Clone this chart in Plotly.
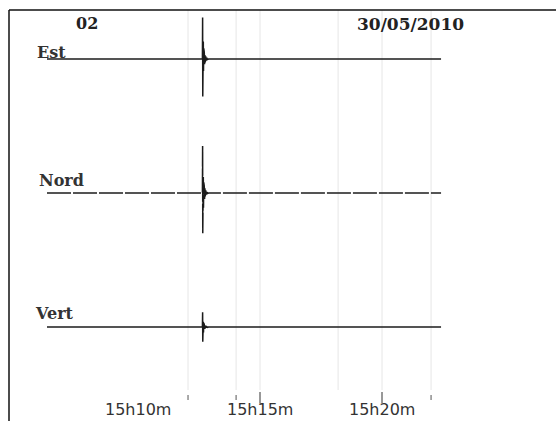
import plotly.graph_objects as go

# Time axis in minutes after 15h00
trace_start = 6.27
trace_end = 22.42
burst_t = [12.640, 12.648, 12.654, 12.660, 12.668, 12.676, 12.684, 12.694, 12.704,
           12.716, 12.728, 12.742, 12.758, 12.776, 12.796, 12.820, 12.850, 12.890]

# Component amplitudes during the burst (in trace-spacing units)
est_amp = [0, 0.31, -0.28, 0.15, -0.10, 0.13, -0.09, 0.08, -0.06,
           0.05, -0.04, 0.03, -0.025, 0.02, -0.012, 0.008, -0.004, 0]
nord_amp = [0, 0.35, -0.30, 0.13, -0.14, 0.12, -0.11, 0.08, -0.07,
            0.05, -0.045, 0.035, -0.025, 0.02, -0.012, 0.008, -0.004, 0]
vert_amp = [0, 0.11, -0.11, 0.05, -0.05, 0.04, -0.04, 0.03, -0.025,
            0.02, -0.015, 0.012, -0.01, 0.008, -0.005, 0.003, -0.002, 0]

components = ["Est", "Nord", "Vert"]
offsets = [2, 1, 0]

grid_minutes = [12.05, 14.02, 15.0, 18.20, 20.0, 22.01]
minor_ticks = [12.05, 14.02, 22.01]
major_ticks = [15.0, 20.0]
tick_vals = [10, 15, 20]
tick_text = ["15h10m", "15h15m", "15h20m"]

station = "02"
date_text = "30/05/2010"

W, H = 556, 421
X_RANGE = [4.344, 27.131]
Y_RANGE = [-0.701, 2.440]


def py(px):
    return 1 - px / H


def pxx(px):
    return px / W


fig = go.Figure()
amps = [est_amp, nord_amp, vert_amp]
for name, amp, off in zip(components, amps, offsets):
    xs = [trace_start] + burst_t + [trace_end]
    ys = [off] + [off + a for a in amp] + [off]
    fig.add_trace(go.Scatter(
        x=xs, y=ys, mode="lines", name=name,
        line=dict(color="#1c1c1c", width=1.5,
                  dash="24px,2px" if name == "Nord" else "solid"),
        hoverinfo="skip", showlegend=False,
    ))

shapes = []
for g in grid_minutes:
    shapes.append(dict(type="line", xref="x", yref="paper", x0=g, x1=g,
                       y0=py(390), y1=py(10), line=dict(color="#e6e6e6", width=1),
                       layer="below"))
for t in minor_ticks:
    shapes.append(dict(type="line", xref="x", yref="paper", x0=t, x1=t,
                       y0=py(400), y1=py(395), line=dict(color="#555", width=1)))
for t in major_ticks:
    shapes.append(dict(type="line", xref="x", yref="paper", x0=t, x1=t,
                       y0=py(403), y1=py(392), line=dict(color="#333", width=1)))
# frame: top and left edges
shapes.append(dict(type="line", xref="paper", yref="paper", x0=pxx(9), x1=1,
                   y0=py(10), y1=py(10), line=dict(color="#111", width=1.5)))
shapes.append(dict(type="line", xref="paper", yref="paper", x0=pxx(9), x1=pxx(9),
                   y0=py(10), y1=0, line=dict(color="#111", width=1.5)))

annotations = []
for v, t in zip(tick_vals, tick_text):
    annotations.append(dict(x=v, y=py(409), xref="x", yref="paper", text=t,
                            showarrow=False, xanchor="center", yanchor="middle",
                            font=dict(family="DejaVu Sans", size=16, color="#333")))
label_pos = [(35, 53), (37, 180), (33, 313)]
for name, (lx, ly) in zip(components, label_pos):
    annotations.append(dict(x=pxx(lx), y=py(ly), xref="paper", yref="paper",
                            text="<b>%s</b>" % name, showarrow=False,
                            xanchor="left", yanchor="middle",
                            font=dict(family="DejaVu Serif", size=16, color="#333")))
annotations.append(dict(x=pxx(87), y=py(24), xref="paper", yref="paper",
                        text="<b>%s</b>" % station, showarrow=False,
                        xanchor="center", yanchor="middle",
                        font=dict(family="DejaVu Serif", size=16, color="#222")))
annotations.append(dict(x=pxx(410), y=py(24), xref="paper", yref="paper",
                        text="<b>%s</b>" % date_text, showarrow=False,
                        xanchor="center", yanchor="middle",
                        font=dict(family="DejaVu Serif", size=17, color="#222")))

fig.update_layout(
    width=W, height=H,
    margin=dict(l=0, r=0, t=0, b=0),
    paper_bgcolor="white", plot_bgcolor="white",
    xaxis=dict(range=X_RANGE, visible=False, fixedrange=True),
    yaxis=dict(range=Y_RANGE, visible=False, fixedrange=True),
    shapes=shapes, annotations=annotations,
)

fig.write_html("out.html")
